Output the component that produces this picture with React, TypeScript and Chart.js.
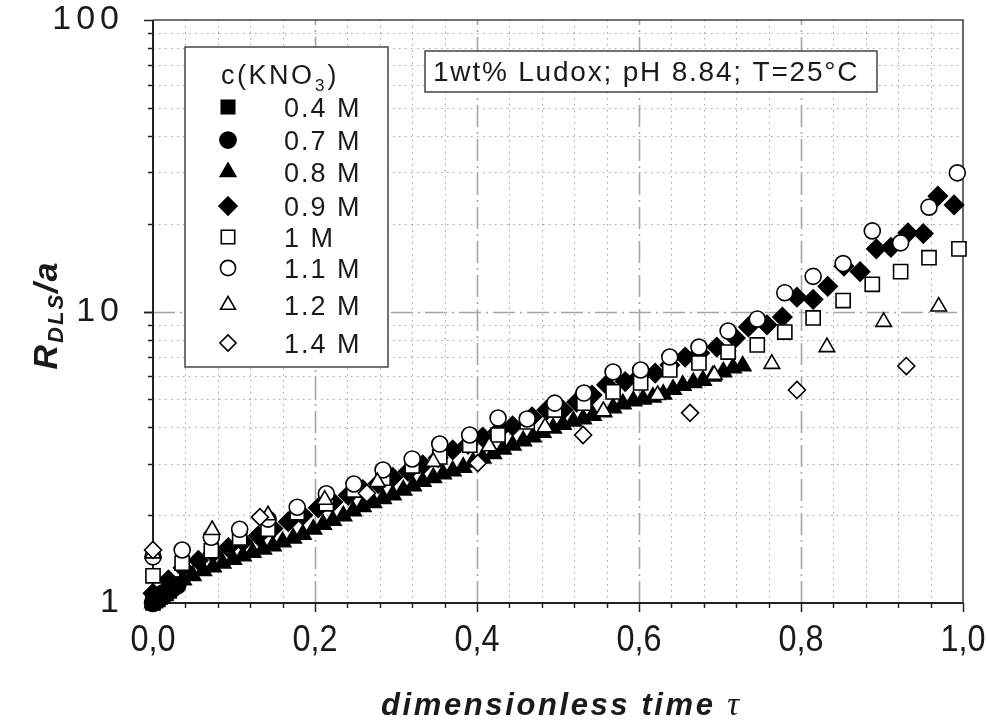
import React, { useEffect, useRef } from 'react';
import { Chart, registerables } from 'chart.js';

Chart.register(...registerables);

const W = 986;
const H = 722;
const FONT = "'Liberation Sans', Arial, sans-serif";

// ---------- data ----------
const x04 = [0, 0.003, 0.006, 0.009, 0.012, 0.016, 0.02];
const y04 = [1.0, 1.02, 1.03, 1.05, 1.06, 1.08, 1.1];

const x07 = [0, 0.004, 0.008, 0.013, 0.018, 0.024, 0.03];
const y07 = [1.0, 1.03, 1.06, 1.08, 1.1, 1.12, 1.15];

const x08 = [0, 0.006, 0.012, 0.025, 0.037, 0.049, 0.062, 0.074, 0.086, 0.099, 0.111, 0.123, 0.136, 0.148, 0.16, 0.173, 0.185, 0.198, 0.21, 0.222, 0.235, 0.247, 0.259, 0.272, 0.284, 0.296, 0.309, 0.321, 0.333, 0.346, 0.358, 0.37, 0.383, 0.395, 0.407, 0.42, 0.432, 0.444, 0.457, 0.469, 0.481, 0.494, 0.506, 0.519, 0.531, 0.543, 0.556, 0.568, 0.58, 0.593, 0.605, 0.617, 0.63, 0.642, 0.654, 0.667, 0.679, 0.691, 0.704, 0.716, 0.728];
const y08 = [1.0, 1.03, 1.07, 1.14, 1.2, 1.24, 1.29, 1.33, 1.37, 1.41, 1.45, 1.49, 1.53, 1.57, 1.62, 1.67, 1.72, 1.79, 1.86, 1.92, 1.99, 2.07, 2.14, 2.21, 2.28, 2.35, 2.44, 2.52, 2.61, 2.69, 2.77, 2.84, 2.92, 3.04, 3.14, 3.25, 3.37, 3.48, 3.6, 3.71, 3.85, 3.98, 4.1, 4.2, 4.28, 4.4, 4.52, 4.67, 4.82, 4.93, 5.0, 5.08, 5.2, 5.4, 5.58, 5.7, 5.8, 6.0, 6.2, 6.4, 6.5];

const x09 = [0, 0.019, 0.037, 0.056, 0.074, 0.093, 0.111, 0.13, 0.148, 0.167, 0.185, 0.204, 0.222, 0.241, 0.259, 0.278, 0.296, 0.315, 0.333, 0.352, 0.37, 0.389, 0.407, 0.426, 0.444, 0.468, 0.486, 0.506, 0.523, 0.542, 0.56, 0.583, 0.601, 0.62, 0.638, 0.657, 0.675, 0.696, 0.719, 0.735, 0.758, 0.777, 0.795, 0.815, 0.833, 0.853, 0.873, 0.893, 0.911, 0.932, 0.951, 0.969, 0.989];
const y09 = [1.08, 1.2, 1.32, 1.4, 1.48, 1.55, 1.62, 1.7, 1.8, 1.9, 2.0, 2.12, 2.22, 2.34, 2.45, 2.57, 2.7, 2.83, 2.98, 3.15, 3.35, 3.5, 3.71, 3.88, 4.05, 4.35, 4.59, 4.59, 4.89, 5.17, 5.6, 5.75, 6.0, 6.15, 6.55, 6.98, 7.2, 7.55, 8.11, 8.85, 9.0, 9.57, 11.2, 11.0, 12.2, 14.3, 13.7, 16.4, 16.6, 18.6, 18.5, 24.9, 23.2];

const x10 = [0, 0.036, 0.072, 0.107, 0.142, 0.178, 0.214, 0.248, 0.284, 0.32, 0.354, 0.391, 0.426, 0.462, 0.496, 0.532, 0.568, 0.602, 0.638, 0.674, 0.71, 0.746, 0.78, 0.815, 0.852, 0.888, 0.923, 0.958, 0.995];
const y10 = [1.24, 1.37, 1.51, 1.67, 1.79, 2.04, 2.19, 2.44, 2.68, 2.95, 3.17, 3.48, 3.77, 4.18, 4.59, 4.85, 5.3, 5.69, 6.3, 6.66, 7.26, 7.68, 8.5, 9.5, 10.9, 12.4, 13.7, 15.3, 16.4];

const x11 = [0, 0.036, 0.072, 0.107, 0.142, 0.178, 0.214, 0.248, 0.284, 0.32, 0.354, 0.391, 0.426, 0.462, 0.496, 0.532, 0.568, 0.602, 0.638, 0.674, 0.71, 0.746, 0.78, 0.815, 0.852, 0.888, 0.923, 0.958, 0.993];
const y11 = [1.44, 1.52, 1.68, 1.79, 1.94, 2.13, 2.37, 2.56, 2.86, 3.12, 3.51, 3.77, 4.31, 4.28, 4.85, 5.25, 6.2, 6.3, 6.98, 7.55, 8.57, 9.42, 11.6, 13.2, 14.6, 18.9, 17.2, 22.8, 29.9];

const x12 = [0, 0.073, 0.142, 0.212, 0.277, 0.346, 0.415, 0.484, 0.556, 0.623, 0.693, 0.764, 0.832, 0.902, 0.97];
const y12 = [1.48, 1.78, 2.0, 2.26, 2.6, 3.05, 3.45, 4.01, 4.55, 5.17, 6.06, 6.61, 7.55, 9.21, 10.4];

const x14 = [0, 0.132, 0.264, 0.401, 0.531, 0.663, 0.795, 0.93];
const y14 = [1.52, 1.97, 2.38, 3.02, 3.77, 4.49, 5.38, 6.5];

const seriesLabels = ['0.4 M', '0.7 M', '0.8 M', '0.9 M', '1 M', '1.1 M', '1.2 M', '1.4 M'];

const xTickValues = [0, 0.2, 0.4, 0.6, 0.8, 1.0];
const xTickLabels = ['0,0', '0,2', '0,4', '0,6', '0,8', '1,0'];
const yTickValues = [1, 10, 100];
const yTickLabels = ['1', '10', '100'];

const annotationText = '1wt% Ludox; pH 8.84; T=25°C';

// ---------- helpers ----------
type Style = 'rect' | 'circle' | 'triangle' | 'rectRot';

const markerDefs: { style: Style; filled: boolean; r: number }[] = [
  { style: 'rect', filled: true, r: 10 },
  { style: 'circle', filled: true, r: 8.5 },
  { style: 'triangle', filled: true, r: 9.5 },
  { style: 'rectRot', filled: true, r: 9.5 },
  { style: 'rect', filled: false, r: 10 },
  { style: 'circle', filled: false, r: 8 },
  { style: 'triangle', filled: false, r: 9 },
  { style: 'rectRot', filled: false, r: 8.5 },
];

function drawMarker(ctx: CanvasRenderingContext2D, style: Style, x: number, y: number, r: number, filled: boolean) {
  ctx.save();
  ctx.beginPath();
  if (style === 'rect') {
    const s = r * Math.SQRT1_2;
    ctx.rect(x - s, y - s, 2 * s, 2 * s);
  } else if (style === 'circle') {
    ctx.arc(x, y, r, 0, Math.PI * 2);
  } else if (style === 'triangle') {
    for (let k = 0; k < 3; k++) {
      const a = (k * 2 * Math.PI) / 3;
      const px = x + Math.sin(a) * r;
      const py = y - Math.cos(a) * r;
      if (k === 0) ctx.moveTo(px, py);
      else ctx.lineTo(px, py);
    }
    ctx.closePath();
  } else {
    ctx.moveTo(x, y - r);
    ctx.lineTo(x + r, y);
    ctx.lineTo(x, y + r);
    ctx.lineTo(x - r, y);
    ctx.closePath();
  }
  ctx.fillStyle = filled ? '#000' : '#fff';
  ctx.fill();
  ctx.strokeStyle = '#000';
  ctx.lineWidth = 1.6;
  ctx.stroke();
  ctx.restore();
}

function textWidth(ctx: CanvasRenderingContext2D, text: string, font: string, ls: number) {
  ctx.font = font;
  (ctx as any).letterSpacing = '0px';
  return ctx.measureText(text).width + ls * (Array.from(text).length - 1);
}

function drawText(
  ctx: CanvasRenderingContext2D,
  text: string,
  x: number,
  y: number,
  font: string,
  ls: number,
  align: 'left' | 'center' | 'right' = 'left',
  baseline: CanvasTextBaseline = 'alphabetic',
  scaleX = 1
) {
  const w = textWidth(ctx, text, font, ls) * scaleX;
  let left = x;
  if (align === 'center') left = x - w / 2;
  else if (align === 'right') left = x - w;
  ctx.save();
  ctx.font = font;
  (ctx as any).letterSpacing = ls + 'px';
  ctx.textAlign = 'left';
  ctx.textBaseline = baseline;
  ctx.fillStyle = '#1a1a1a';
  ctx.translate(left, y);
  ctx.scale(scaleX, 1);
  ctx.fillText(text, 0, 0);
  ctx.restore();
  return w;
}

const decorPlugin = {
  id: 'decor',
  beforeDraw(chart: any) {
    const ctx = chart.ctx as CanvasRenderingContext2D;
    ctx.save();
    ctx.fillStyle = '#fff';
    ctx.fillRect(0, 0, chart.width, chart.height);
    ctx.restore();
  },
  beforeDatasetsDraw(chart: any) {
    const ctx = chart.ctx as CanvasRenderingContext2D;
    const ca = chart.chartArea;
    const xs = chart.scales.x;
    const ys = chart.scales.y;
    ctx.save();
    // minor grid (dotted)
    ctx.strokeStyle = '#ad9f9f';
    ctx.lineWidth = 1;
    ctx.setLineDash([1.5, 4.5]);
    for (let i = 1; i < 25; i++) {
      if (i % 5 === 0) continue;
      const px = Math.round(xs.getPixelForValue(i * 0.04)) + 0.5;
      ctx.beginPath();
      ctx.moveTo(px, ca.top);
      ctx.lineTo(px, ca.bottom);
      ctx.stroke();
    }
    for (const dec of [1, 10]) {
      for (let k = 2; k <= 9; k++) {
        const py = Math.round(ys.getPixelForValue(k * dec)) + 0.5;
        ctx.beginPath();
        ctx.moveTo(ca.left, py);
        ctx.lineTo(ca.right, py);
        ctx.stroke();
      }
    }
    // major grid (dash-dot)
    ctx.strokeStyle = '#a9a3a3';
    ctx.lineWidth = 1.6;
    ctx.setLineDash([22, 5, 2, 5]);
    for (const v of [0.2, 0.4, 0.6, 0.8]) {
      const px = Math.round(xs.getPixelForValue(v)) + 0.5;
      ctx.beginPath();
      ctx.moveTo(px, ca.bottom);
      ctx.lineTo(px, ca.top);
      ctx.stroke();
    }
    {
      const py = Math.round(ys.getPixelForValue(10)) + 0.5;
      ctx.beginPath();
      ctx.moveTo(ca.left, py);
      ctx.lineTo(ca.right, py);
      ctx.stroke();
    }
    ctx.setLineDash([]);
    // frame
    ctx.strokeStyle = '#444';
    ctx.lineWidth = 1.6;
    ctx.beginPath();
    ctx.moveTo(ca.left, ca.top);
    ctx.lineTo(ca.right, ca.top);
    ctx.lineTo(ca.right, ca.bottom);
    ctx.stroke();
    ctx.strokeStyle = '#222';
    ctx.lineWidth = 2;
    ctx.beginPath();
    ctx.moveTo(ca.left, ca.top);
    ctx.lineTo(ca.left, ca.bottom);
    ctx.lineTo(ca.right, ca.bottom);
    ctx.stroke();
    // ticks
    ctx.lineWidth = 1.5;
    for (let i = 0; i <= 25; i++) {
      const major = i % 5 === 0;
      const px = Math.round(xs.getPixelForValue(i * 0.04)) + 0.5;
      ctx.beginPath();
      ctx.moveTo(px, ca.bottom);
      ctx.lineTo(px, ca.bottom + (major ? 9 : 5));
      ctx.stroke();
    }
    for (const dec of [1, 10]) {
      for (let k = 1; k <= 10; k++) {
        const v = k * dec;
        const major = k === 1 || k === 10;
        const py = Math.round(ys.getPixelForValue(v)) + 0.5;
        ctx.beginPath();
        ctx.moveTo(ca.left, py);
        ctx.lineTo(ca.left - (major ? 9 : 5), py);
        ctx.stroke();
      }
    }
    ctx.restore();
  },
  afterDatasetsDraw(chart: any) {
    const ctx = chart.ctx as CanvasRenderingContext2D;
    const xs = chart.scales.x;
    const ys = chart.scales.y;

    // legend box
    ctx.save();
    ctx.fillStyle = '#fff';
    ctx.strokeStyle = '#444';
    ctx.lineWidth = 1.5;
    ctx.fillRect(185, 47, 203, 320);
    ctx.strokeRect(185, 47, 203, 320);
    ctx.restore();
    const lf = `27px ${FONT}`;
    let cx = 221;
    cx += drawText(ctx, 'c(KNO', cx, 84, lf, 2.5);
    cx += 3;
    cx += drawText(ctx, '3', cx, 91, `17px ${FONT}`, 0);
    cx += 3;
    drawText(ctx, ')', cx, 84, lf, 0);
    const rowsY = [107, 140, 172, 206, 237, 268, 305, 343];
    seriesLabels.forEach((lab, i) => {
      const m = markerDefs[i];
      drawMarker(ctx, m.style, 228, rowsY[i], m.r * 0.95, m.filled);
      drawText(ctx, lab, 284, rowsY[i] + 9.5, lf, 2);
    });

    // annotation box
    ctx.save();
    ctx.fillStyle = '#fff';
    ctx.strokeStyle = '#444';
    ctx.lineWidth = 1.5;
    ctx.fillRect(425, 51, 452, 41);
    ctx.strokeRect(425, 51, 452, 41);
    ctx.restore();
    drawText(ctx, annotationText, 433, 81, `28px ${FONT}`, 1.8);

    // tick labels
    xTickValues.forEach((v, i) => {
      drawText(ctx, xTickLabels[i], xs.getPixelForValue(v), 641, `36px ${FONT}`, 0, 'center', 'middle', 0.9);
    });
    yTickValues.forEach((v, i) => {
      drawText(ctx, yTickLabels[i], 119, ys.getPixelForValue(v), `34px ${FONT}`, 5, 'right', 'middle');
    });

    // x title
    const bi = `italic bold 31px ${FONT}`;
    const main = 'dimensionless time ';
    const tauFont = `italic 33px 'Liberation Serif', 'DejaVu Serif', serif`;
    const w1 = textWidth(ctx, main, bi, 2.6);
    const w2 = textWidth(ctx, 'τ', tauFont, 0);
    const startX = 560 - (w1 + 3 + w2) / 2;
    drawText(ctx, main, startX, 715, bi, 2.6);
    drawText(ctx, 'τ', startX + w1 + 3, 715, tauFont, 0);

    // y title (rotated)
    ctx.save();
    ctx.translate(57, 316);
    ctx.rotate(-Math.PI / 2);
    const rf = `italic bold 34px ${FONT}`;
    const sf = `italic bold 22px ${FONT}`;
    const wa = textWidth(ctx, 'R', rf, 0);
    const wb = textWidth(ctx, 'DLS', sf, 2);
    const wc = textWidth(ctx, '/a', rf, 2);
    let tx = -(wa + 2 + wb + 2 + wc) / 2;
    drawText(ctx, 'R', tx, 0, rf, 0);
    tx += wa + 2;
    drawText(ctx, 'DLS', tx, 6, sf, 2);
    tx += wb + 2;
    drawText(ctx, '/a', tx, 0, rf, 2);
    ctx.restore();
  },
};

function mk(xv: number[], yv: number[]) {
  return xv.map((x, i) => ({ x, y: yv[i] }));
}

export default function App() {
  const ref = useRef<HTMLCanvasElement | null>(null);
  useEffect(() => {
    if (!ref.current) return;
    const xsArr = [x04, x07, x08, x09, x10, x11, x12, x14];
    const ysArr = [y04, y07, y08, y09, y10, y11, y12, y14];
    const orders = [8, 7, 6, 5, 4, 3, 2, 1];
    const datasets = seriesLabels.map((lab, i) => {
      const m = markerDefs[i];
      return {
        label: lab,
        data: mk(xsArr[i], ysArr[i]),
        pointStyle: m.style,
        pointRadius: m.r,
        pointHoverRadius: m.r,
        backgroundColor: m.filled ? '#000' : '#fff',
        borderColor: '#000',
        pointBorderWidth: 1.6,
        borderWidth: 1.6,
        showLine: false,
        clip: false as any,
        order: orders[i],
      };
    });
    const chart = new Chart(ref.current, {
      type: 'scatter',
      data: { datasets },
      plugins: [decorPlugin],
      options: {
        animation: false,
        responsive: false,
        maintainAspectRatio: false,
        devicePixelRatio: 1,
        layout: { padding: { top: 20, right: 23, left: 0, bottom: 0 } },
        plugins: { legend: { display: false }, tooltip: { enabled: false } },
        events: [],
        scales: {
          x: {
            type: 'linear',
            min: 0,
            max: 1,
            ticks: { display: false, stepSize: 0.04 },
            grid: { display: false },
            border: { display: false },
            afterFit: (s: any) => {
              s.height = H - 603;
            },
          },
          y: {
            type: 'logarithmic',
            min: 1,
            max: 100,
            ticks: { display: false },
            grid: { display: false },
            border: { display: false },
            afterFit: (s: any) => {
              s.width = 153;
            },
          },
        },
      } as any,
    });
    return () => chart.destroy();
  }, []);
  return (
    <div style={{ position: 'absolute', left: 0, top: 0, width: W, height: H, background: '#fff' }}>
      <canvas ref={ref} width={W} height={H} style={{ display: 'block', width: W, height: H }} />
    </div>
  );
}
